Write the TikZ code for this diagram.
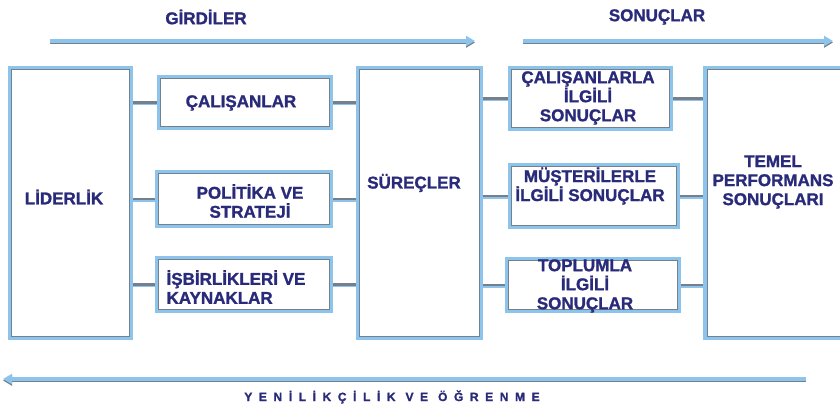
\documentclass[tikz,border=0pt]{standalone}
\usepackage{fontspec}
\setmainfont{Liberation Sans}[BoldFeatures={FakeBold=1.3}]
\usetikzlibrary{arrows.meta}

\definecolor{lblue}{RGB}{140,196,236}
\definecolor{gborder}{RGB}{118,128,140}
\definecolor{navy}{RGB}{42,42,122}

\tikzset{
  box/.style = {draw=lblue, line width=3.4pt, inner sep=0pt, fill=white,
    path picture={\draw[gborder, line width=1pt]
      ([shift={(2.3pt,-2.3pt)}]path picture bounding box.north west) rectangle
      ([shift={(-2.3pt,2.3pt)}]path picture bounding box.south east);}},
  txt/.style = {text=navy, font=\bfseries\fontsize{17}{19}\selectfont, align=center, inner sep=0pt},
  link/.style = {draw=gborder, line width=2.2pt,
    preaction={draw=lblue, line width=3pt, transform canvas={yshift=-1.2pt}}},
  flow/.style = {-{Triangle[width=10pt,length=9pt]}, draw=lblue, line width=3.6pt,
    preaction={draw=gborder, line width=3.6pt, transform canvas={yshift=-1.5pt}}}
}

\begin{document}
\begin{tikzpicture}[x=1pt, y=-1pt]
    \useasboundingbox (0,0) rectangle (840,411);
    % titles and arrows
    \node[txt] (girdi) at (206,17) {GİRDİLER};
    \node[txt] (sonuc) at (657,17) {SONUÇLAR};
    \coordinate (ga) at (50,41);
    \coordinate (gb) at (475,41);
    \coordinate (sa) at (523,41);
    \coordinate (sb) at (833,41);
    \coordinate (ya) at (806,379);
    \coordinate (yb) at (3,379);
    \draw[flow] (ga) -- (gb);
    \draw[flow] (sa) -- (sb);
    \draw[flow] (ya) -- (yb);
    \node[txt, font=\bfseries\fontsize{12}{14}\selectfont\addfontfeatures{LetterSpace=55}] (yenilik) at (392,397) {YENİLİKÇİLİK VE ÖĞRENME};

    % boxes
    \node[box, minimum width=122pt, minimum height=271pt] (lider) at (70.5,203) {};
    \node[box, minimum width=173pt, minimum height=52pt] (calisan) at (245,102.5) {};
    \node[box, minimum width=175pt, minimum height=55pt] (politika) at (244,199) {};
    \node[box, minimum width=175pt, minimum height=54pt] (isbirlik) at (244,284.5) {};
    \node[box, minimum width=124pt, minimum height=271pt] (surec) at (419.5,203) {};
    \node[box, minimum width=162pt, minimum height=62pt] (calsonuc) at (590.5,98.5) {};
    \node[box, minimum width=169pt, minimum height=63pt] (musteri) at (594,196) {};
    \node[box, minimum width=173pt, minimum height=53pt] (toplum) at (593,285) {};
    \node[box, minimum width=144pt, minimum height=271pt] (temel) at (777,203) {};

    % texts
    \node[txt] (lidertxt) at (64,197) {LİDERLİK};
    \node[txt] (calisantxt) at (241,103) {ÇALIŞANLAR};
    \node[txt] (politikatxt) at (250,201) {POLİTİKA VE\\STRATEJİ};
    \node[txt, align=left] (isbirliktxt) at (236,287) {İŞBİRLİKLERİ VE\\KAYNAKLAR};
    \node[txt] (surectxt) at (414,183) {SÜREÇLER};
    \node[txt] (calsonuctxt) at (588,98) {ÇALIŞANLARLA\\İLGİLİ\\SONUÇLAR};
    \node[txt] (musteritxt) at (590,186) {MÜŞTERİLERLE\\İLGİLİ SONUÇLAR};
    \node[txt] (toplumtxt) at (585,286) {TOPLUMLA\\İLGİLİ\\SONUÇLAR};
    \node[txt] (temeltxt) at (773,182) {TEMEL\\PERFORMANS\\SONUÇLARI};

    % connectors
    \draw[link] (lider.east |- calisan.west) -- (calisan.west);
    \draw[link] (lider.east |- politika.west) -- (politika.west);
    \draw[link] (lider.east |- isbirlik.west) -- (isbirlik.west);
    \draw[link] (calisan.east) -- (calisan.east -| surec.west);
    \draw[link] (politika.east) -- (politika.east -| surec.west);
    \draw[link] (isbirlik.east) -- (isbirlik.east -| surec.west);
    \draw[link] (surec.east |- calsonuc.west) -- (calsonuc.west);
    \draw[link] (surec.east |- musteri.west) -- (musteri.west);
    \draw[link] (surec.east |- toplum.west) -- (toplum.west);
    \draw[link] (calsonuc.east) -- (calsonuc.east -| temel.west);
    \draw[link] (musteri.east) -- (musteri.east -| temel.west);
    \draw[link] (toplum.east) -- (toplum.east -| temel.west);
\end{tikzpicture}
\end{document}
